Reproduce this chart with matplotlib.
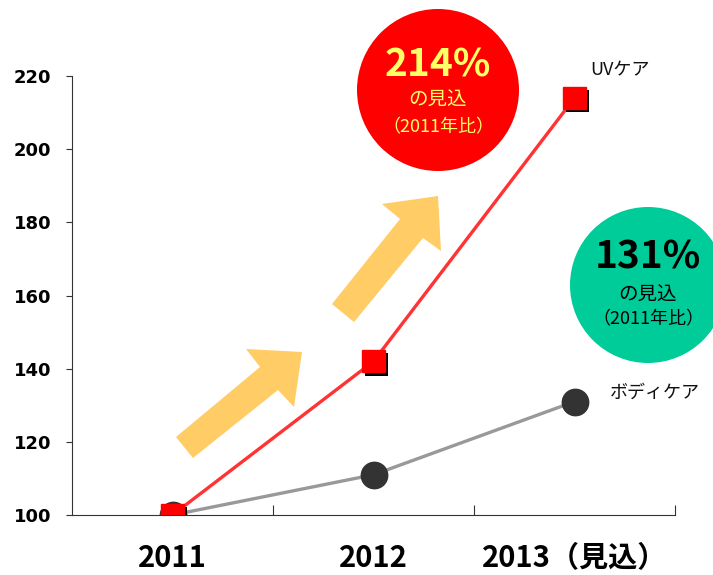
import matplotlib
matplotlib.use("Agg")
import matplotlib.pyplot as plt
import matplotlib.patches as mpatches
import matplotlib.patheffects as pe

plt.rcParams['font.family'] = ['Noto Sans CJK JP', 'DejaVu Sans']

# ---- data ----
categories = ["2011", "2012", "2013（見込）"]
uv_values = [100, 142, 214]
body_values = [100, 111, 131]
series_names = ["UVケア", "ボディケア"]
y_ticks = [100, 120, 140, 160, 180, 200, 220]
uv_badge = ["214%", "の見込", "（2011年比）"]
body_badge = ["131%", "の見込", "（2011年比）"]

W, H = 713, 575
fig = plt.figure(figsize=(W / 100, H / 100), dpi=100)
ax = fig.add_axes([72 / W, 1 - 515 / H, (675 - 72) / W, (515 - 76) / H])


def fx(x):
    return x / W


def fy(y):
    return 1 - y / H


# decorative arrows (pixel outline, figure coords)
arrow1 = [(176, 437), (260, 367), (246, 349), (302, 352), (294, 407), (278, 390), (193, 458)]
arrow2 = [(332, 304), (400, 219), (382, 204), (438, 196), (441, 251), (423, 238), (354, 322)]
for poly in (arrow1, arrow2):
    fig.patches.append(mpatches.Polygon([(fx(x), fy(y)) for x, y in poly], closed=True,
                                        transform=fig.transFigure, facecolor="#ffcc66",
                                        edgecolor="none", zorder=0))

xs = list(range(len(categories)))
ax.plot(xs, body_values, color="#999999", lw=2.4, zorder=2, solid_capstyle="butt")
ax.plot(xs, uv_values, color="#ff3333", lw=2.4, zorder=3, solid_capstyle="butt")
ax.plot(xs, body_values, ls="none", marker="o", ms=19, color="#333333", mec="#333333", zorder=4)
ax.plot(xs, uv_values, ls="none", marker="s", ms=16, color="#ff0000", mec="#ff0000", zorder=5,
        path_effects=[pe.SimplePatchShadow(offset=(2.2, -2.2), shadow_rgbFace="black", alpha=1.0),
                      pe.Normal()])

ax.set_xlim(-0.5, 2.5)
ax.set_ylim(100, 220)
ax.set_yticks(y_ticks)
ax.set_yticklabels([str(v) for v in y_ticks], fontfamily="DejaVu Sans", fontweight="bold", fontsize=13)
ax.tick_params(axis="y", direction="out", length=4, width=0.8, pad=11, color="#333333")

ax.set_xticks([0.5, 1.5, 2.5])
ax.set_xticklabels([])
ax.tick_params(axis="x", which="major", direction="in", length=7, width=0.8, color="#333333")
ax.set_xticks(xs, minor=True)
ax.set_xticklabels(categories, minor=True, fontweight="bold", fontsize=21)
ax.tick_params(axis="x", which="minor", length=0, pad=20)

for s in ("top", "right"):
    ax.spines[s].set_visible(False)
for s in ("left", "bottom"):
    ax.spines[s].set_linewidth(0.8)
    ax.spines[s].set_color("#333333")
ax.set_facecolor("none")
ax.set_zorder(1)

# series labels
fig.text(fx(590), fy(70), series_names[0], fontsize=13, ha="left", va="center", color="#111111")
fig.text(fx(610), fy(393), series_names[1], fontsize=13, ha="left", va="center", color="#111111")


# badges
def badge(cx, cy, r, color, tcolor, texts, offs):
    fig.patches.append(mpatches.Ellipse((fx(cx), fy(cy)), 2 * r / W, 2 * r / H,
                                        transform=fig.transFigure, facecolor=color,
                                        edgecolor="none", zorder=0))
    fig.text(fx(cx), fy(cy + offs[0]), texts[0], fontsize=28, fontweight="bold", color=tcolor,
             ha="center", va="center")
    fig.text(fx(cx), fy(cy + offs[1]), texts[1], fontsize=14, color=tcolor, ha="center", va="center")
    fig.text(fx(cx), fy(cy + offs[2]), texts[2], fontsize=13, color=tcolor, ha="center", va="center")


badge(438, 90, 81, "#ff0000", "#ffff66", uv_badge, (-25, 10, 37))
badge(648, 285, 78, "#00cc99", "#000000", body_badge, (-28, 10, 34))

fig.savefig("out.png", dpi=100)
